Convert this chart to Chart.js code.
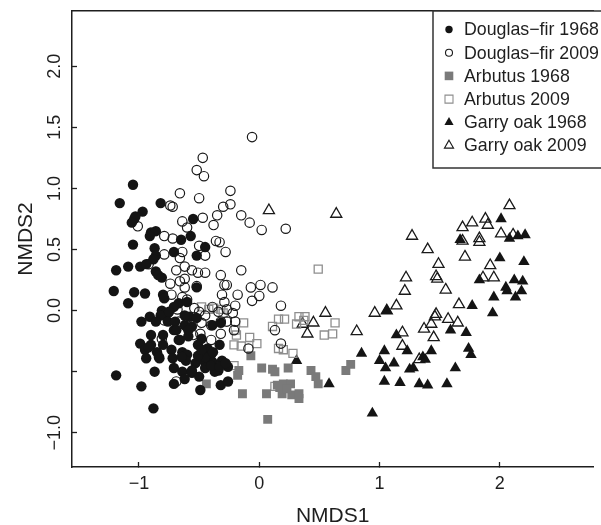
<!DOCTYPE html>
<html>
<head>
<meta charset="utf-8">
<script src="https://cdn.jsdelivr.net/npm/chart.js@4/dist/chart.umd.min.js"></script>
<style>
  html, body { margin: 0; padding: 0; background: #fff; overflow: hidden; }
  canvas { display: block; }
</style>
</head>
<body>
<canvas id="c" width="601" height="525"></canvas>
<script>
// ---- Data (NMDS1, NMDS2) ----
const seriesLabels = ['Douglas\u2212fir 1968', 'Douglas\u2212fir 2009', 'Arbutus 1968', 'Arbutus 2009', 'Garry oak 1968', 'Garry oak 2009'];

const douglasFir1968 = [[-1.05,1.03],[-1.16,0.88],[-0.97,0.81],[-0.82,0.88],[-1.04,0.75],[-1.03,0.77],[-1.06,0.72],[-0.55,0.75],[-0.90,0.64],[-0.86,0.65],[-0.91,0.61],[-0.57,0.61],[-0.65,0.58],[-1.05,0.54],[-0.87,0.51],[-0.71,0.48],[-0.45,0.52],[-0.52,0.45],[-0.86,0.45],[-0.88,0.42],[-1.19,0.33],[-1.09,0.36],[-0.99,0.36],[-0.94,0.38],[-0.86,0.32],[-0.84,0.29],[-0.81,0.27],[-0.52,0.19],[-1.21,0.16],[-1.04,0.15],[-0.95,0.14],[-0.80,0.13],[-0.79,0.10],[-1.09,0.06],[-0.67,0.06],[-0.60,0.07],[-0.71,0.03],[-0.81,0.00],[-0.77,-0.02],[-0.82,-0.04],[-0.98,-0.09],[-0.91,-0.05],[-0.86,-0.09],[-0.76,-0.09],[-0.58,-0.05],[-0.52,-0.06],[-0.62,-0.12],[-0.71,-0.16],[-0.56,-0.13],[-0.39,-0.12],[-0.32,-0.10],[-0.90,-0.20],[-0.80,-0.20],[-0.59,-0.21],[-0.67,-0.24],[-0.48,-0.23],[-0.99,-0.27],[-0.90,-0.28],[-0.80,-0.28],[-0.95,-0.32],[-0.85,-0.34],[-0.73,-0.32],[-0.64,-0.34],[-0.60,-0.36],[-0.51,-0.28],[-0.43,-0.31],[-0.40,-0.36],[-0.33,-0.28],[-0.94,-0.39],[-0.83,-0.39],[-0.72,-0.39],[-0.61,-0.41],[-0.53,-0.43],[-0.46,-0.41],[-0.39,-0.42],[-0.31,-0.41],[-0.26,-0.46],[-0.45,-0.47],[-0.34,-0.49],[-0.71,-0.47],[-0.64,-0.50],[-0.56,-0.51],[-0.87,-0.50],[-1.19,-0.53],[-0.50,-0.54],[-0.37,-0.50],[-0.98,-0.62],[-0.71,-0.60],[-0.49,-0.65],[-0.32,-0.61],[-0.26,-0.58],[-0.88,-0.80],[-0.75,-0.01],[-0.70,-0.09],[-0.62,-0.04],[-0.69,-0.16],[-0.59,-0.16],[-0.66,-0.24],[-0.92,-0.30],[-0.835,-0.38],[-0.645,-0.38],[-0.45,-0.38],[-0.385,-0.34],[-0.40,-0.45],[-0.56,-0.49],[-0.62,-0.56],[-0.33,-0.46],[-0.28,-0.43],[-0.51,-0.37],[-0.48,-0.32]];

const douglasFir2009 = [[-0.06,1.42],[-0.47,1.25],[-0.52,1.15],[-0.46,1.10],[-0.66,0.96],[-0.50,0.92],[-0.24,0.98],[-0.24,0.87],[-0.30,0.85],[-0.35,0.78],[-0.74,0.86],[-0.72,0.85],[-0.15,0.78],[-0.08,0.72],[0.02,0.66],[0.22,0.67],[-0.47,0.76],[-0.38,0.70],[-0.64,0.73],[-0.60,0.68],[-1.01,0.69],[-0.79,0.61],[-0.72,0.59],[-0.36,0.57],[-0.33,0.56],[-0.28,0.48],[-0.50,0.53],[-0.45,0.45],[-0.64,0.48],[-0.79,0.46],[-0.66,0.43],[-0.69,0.33],[-0.62,0.36],[-0.56,0.33],[-0.51,0.31],[-0.45,0.31],[-0.62,0.26],[-0.66,0.24],[-0.74,0.22],[-0.62,0.19],[-0.52,0.20],[-0.32,0.29],[-0.15,0.33],[-0.29,0.21],[-0.27,0.21],[-0.07,0.19],[0.01,0.21],[0.11,0.19],[0.00,0.12],[-0.06,0.08],[-0.18,0.13],[-0.31,0.13],[-0.29,0.07],[-0.20,0.04],[0.18,0.04],[-0.73,0.13],[-0.64,0.11],[-0.60,0.09],[-0.54,0.02],[-0.50,-0.01],[-0.45,-0.04],[-0.39,0.03],[-0.34,-0.01],[-0.27,0.01],[-0.22,-0.02],[-0.68,0.01],[-0.76,-0.02],[-0.79,-0.08],[-0.67,-0.09],[-0.58,-0.08],[-0.48,-0.10],[-0.40,-0.12],[-0.32,-0.09],[-0.27,-0.09],[-0.20,-0.09],[-0.21,-0.16],[-0.32,-0.19],[-0.40,-0.24],[-0.49,-0.19],[-0.55,-0.20],[0.13,-0.16],[0.18,-0.27],[-0.09,-0.31],[-0.81,-0.23],[-0.69,-0.58],[-0.92,0.38]];

const arbutus1968 = [[-0.07,-0.37],[-0.17,-0.49],[-0.18,-0.53],[-0.44,-0.60],[-0.14,-0.68],[0.02,-0.47],[0.11,-0.48],[0.13,-0.50],[0.24,-0.47],[0.06,-0.68],[0.15,-0.61],[0.20,-0.60],[0.26,-0.60],[0.19,-0.68],[0.27,-0.69],[0.33,-0.68],[0.33,-0.72],[0.43,-0.49],[0.47,-0.54],[0.49,-0.60],[0.72,-0.49],[0.76,-0.44],[0.07,-0.89],[0.17,-0.63],[0.23,-0.64]];

const arbutus2009 = [[0.49,0.34],[-0.48,0.03],[-0.38,0.02],[-0.32,0.01],[-0.42,0.01],[-0.30,-0.02],[-0.13,-0.10],[-0.20,-0.16],[-0.19,-0.20],[-0.21,-0.28],[-0.15,-0.29],[-0.08,-0.22],[-0.02,-0.27],[-0.21,-0.45],[0.11,-0.13],[0.16,-0.07],[0.21,-0.07],[0.16,-0.31],[0.20,-0.32],[0.28,-0.35],[0.31,-0.11],[0.33,-0.05],[0.38,-0.05],[0.37,-0.08],[0.54,-0.20],[0.61,-0.19],[0.63,-0.10],[0.13,-0.62]];

const garryOak1968 = [[2.01,0.75],[2.08,0.59],[2.15,0.61],[2.21,0.62],[1.67,0.58],[2.00,0.43],[2.20,0.40],[1.83,0.25],[2.05,0.19],[2.06,0.16],[2.12,0.25],[2.19,0.24],[2.18,0.16],[2.13,0.11],[1.95,0.11],[1.94,-0.02],[1.77,0.04],[1.06,0.00],[1.14,-0.20],[1.59,-0.16],[1.72,-0.18],[0.85,-0.35],[1.04,-0.33],[1.23,-0.33],[1.43,-0.33],[1.74,-0.31],[1.76,-0.36],[1.00,-0.41],[1.12,-0.43],[1.05,-0.47],[1.25,-0.48],[1.28,-0.47],[1.36,-0.38],[1.38,-0.40],[1.63,-0.47],[1.04,-0.58],[1.17,-0.59],[1.33,-0.60],[1.40,-0.61],[1.56,-0.60],[0.94,-0.84],[0.31,-0.41],[0.58,-0.60]];

const garryOak2009 = [[0.08,0.82],[0.64,0.79],[2.08,0.86],[1.88,0.75],[1.77,0.72],[1.69,0.68],[1.90,0.70],[2.01,0.63],[2.11,0.62],[1.69,0.57],[1.83,0.59],[1.83,0.56],[1.27,0.61],[1.40,0.50],[1.71,0.44],[1.49,0.38],[1.92,0.37],[1.47,0.28],[1.48,0.26],[1.22,0.27],[1.21,0.16],[1.55,0.17],[1.86,0.27],[1.95,0.27],[1.14,0.04],[1.66,0.05],[0.96,-0.02],[1.06,0.00],[0.55,-0.02],[1.47,-0.03],[1.46,-0.05],[1.57,-0.07],[1.65,-0.10],[1.43,-0.11],[1.37,-0.15],[1.45,-0.22],[1.19,-0.18],[1.19,-0.29],[1.33,-0.40],[0.81,-0.17],[0.36,-0.11],[0.40,-0.19],[0.45,-0.10]];

// ---- Axis ticks ----
const xTickValues = [-1, 0, 1, 2];
const xTickLabels = ['\u22121', '0', '1', '2'];
const yTickValues = [-1, -0.5, 0, 0.5, 1, 1.5, 2];
const yTickLabelValues = [-1, 0, 0.5, 1, 1.5, 2];
const yTickLabels = ['\u22121.0', '0.0', '0.5', '1.0', '1.5', '2.0'];

const FONT = "'Liberation Sans', Arial, Helvetica, sans-serif";
const INK = '#1e1e1e';

const toPts = arr => arr.map(p => ({ x: p[0], y: p[1] }));

const styles = [
  { pointStyle: 'circle',   r: 5.2, fill: '#141414', stroke: '#141414', bw: 0,   lr: 3.7 },
  { pointStyle: 'circle',   r: 4.7, fill: 'rgba(0,0,0,0)', stroke: '#1a1a1a', bw: 1.2, lr: 3.5 },
  { pointStyle: 'rect',     r: 6.3, fill: '#7a7a7a', stroke: '#7a7a7a', bw: 0,   lr: 4.3 },
  { pointStyle: 'rect',     r: 5.7, fill: 'rgba(0,0,0,0)', stroke: '#8e8e8e', bw: 1.3, lr: 4.0 },
  { pointStyle: 'triangle', r: 6.6, fill: '#141414', stroke: '#141414', bw: 0,   lr: 4.6 },
  { pointStyle: 'triangle', r: 6.4, fill: 'rgba(0,0,0,0)', stroke: '#1a1a1a', bw: 1.3, lr: 4.6 }
];
const seriesData = [douglasFir1968, douglasFir2009, arbutus1968, arbutus2009, garryOak1968, garryOak2009];

const datasets = seriesData.map((d, i) => ({
  label: seriesLabels[i],
  data: toPts(d),
  pointStyle: styles[i].pointStyle,
  pointRadius: styles[i].r,
  pointHoverRadius: styles[i].r,
  backgroundColor: styles[i].fill,
  borderColor: styles[i].stroke,
  borderWidth: styles[i].bw,
  showLine: false
}));

// y tick labels drawn rotated (like R's las=0), positioned by the y scale
const rotatedYLabels = {
  id: 'rotatedYLabels',
  afterDraw(chart) {
    const ctx = chart.ctx, ys = chart.scales.y;
    ctx.save();
    ctx.fillStyle = INK;
    ctx.font = '18px ' + FONT;
    ctx.textAlign = 'center';
    ctx.textBaseline = 'middle';
    yTickLabelValues.forEach((v, i) => {
      const py = ys.getPixelForValue(v);
      ctx.save();
      ctx.translate(55, py);
      ctx.rotate(-Math.PI / 2);
      ctx.fillText(yTickLabels[i], 0, 0);
      ctx.restore();
    });
    ctx.restore();
  }
};

// boxed legend in the top-right corner of the plot
const boxLegend = {
  id: 'boxLegend',
  afterDraw(chart) {
    const ctx = chart.ctx, area = chart.chartArea;
    const left = 433, top = area.top, bottom = 168;
    ctx.save();
    ctx.fillStyle = '#fff';
    ctx.fillRect(left, top, chart.width - left + 5, bottom - top);
    ctx.strokeStyle = '#333';
    ctx.lineWidth = 1.5;
    ctx.strokeRect(left, top, chart.width - left + 10, bottom - top);
    ctx.font = '17.8px ' + FONT;
    ctx.textAlign = 'left';
    ctx.textBaseline = 'middle';
    chart.data.datasets.forEach((ds, i) => {
      const cy = 29.5 + i * 23.2, cx = 449;
      const s = styles[i];
      ctx.beginPath();
      if (s.pointStyle === 'circle') {
        ctx.arc(cx, cy, s.lr, 0, Math.PI * 2);
      } else if (s.pointStyle === 'rect') {
        ctx.rect(cx - s.lr, cy - s.lr, 2 * s.lr, 2 * s.lr);
      } else {
        const r = s.lr * 1.15;
        ctx.moveTo(cx, cy - r);
        ctx.lineTo(cx + r * 0.866, cy + r * 0.5);
        ctx.lineTo(cx - r * 0.866, cy + r * 0.5);
        ctx.closePath();
      }
      if (s.bw > 0) {
        ctx.lineWidth = 1.1;
        ctx.strokeStyle = s.stroke;
        ctx.stroke();
      } else {
        ctx.fillStyle = s.fill;
        ctx.fill();
      }
      ctx.fillStyle = INK;
      ctx.fillText(ds.label, 464, cy + 1);
    });
    ctx.restore();
  }
};

const axisCommon = {
  type: 'linear',
  grid: { display: true, drawOnChartArea: false, drawTicks: true, tickLength: -5, tickColor: INK, tickWidth: 1.3 },
  border: { display: true, color: INK, width: 1.5 }
};

new Chart(document.getElementById('c'), {
  type: 'scatter',
  data: { datasets },
  options: {
    responsive: false,
    animation: false,
    events: [],
    layout: { padding: { left: 0, right: 0, top: 0, bottom: 0 } },
    plugins: { legend: { display: false }, tooltip: { enabled: false } },
    scales: {
      x: Object.assign({}, axisCommon, {
        position: 'bottom',
        min: -1.557, max: 2.777,
        afterBuildTicks: s => { s.ticks = xTickValues.map(v => ({ value: v })); },
        afterFit: s => { s.height = 58; },
        ticks: {
          callback: v => xTickLabels[xTickValues.indexOf(v)],
          font: { family: FONT, size: 18 }, color: INK, padding: 11, maxRotation: 0, autoSkip: false
        },
        title: { display: true, text: 'NMDS1', font: { family: FONT, size: 21, lineHeight: 1 }, color: INK, padding: { top: 0, bottom: -2 } }
      }),
      y: Object.assign({}, axisCommon, {
        position: 'left',
        min: -1.28, max: 2.452,
        afterBuildTicks: s => { s.ticks = yTickValues.map(v => ({ value: v })); },
        afterFit: s => { s.width = 72; },
        ticks: { display: false },
        title: { display: true, text: 'NMDS2', font: { family: FONT, size: 21, lineHeight: 1 }, color: INK, padding: { top: 16, bottom: 0 } }
      }),
      xTop: {
        type: 'linear', position: 'top', display: true,
        min: -1.557, max: 2.777,
        ticks: { display: false },
        grid: { display: false, drawTicks: false },
        border: { display: true, color: INK, width: 1.5 },
        afterFit: s => { s.height = 11; }
      }
    }
  },
  plugins: [rotatedYLabels, boxLegend]
});
</script>
</body>
</html>
